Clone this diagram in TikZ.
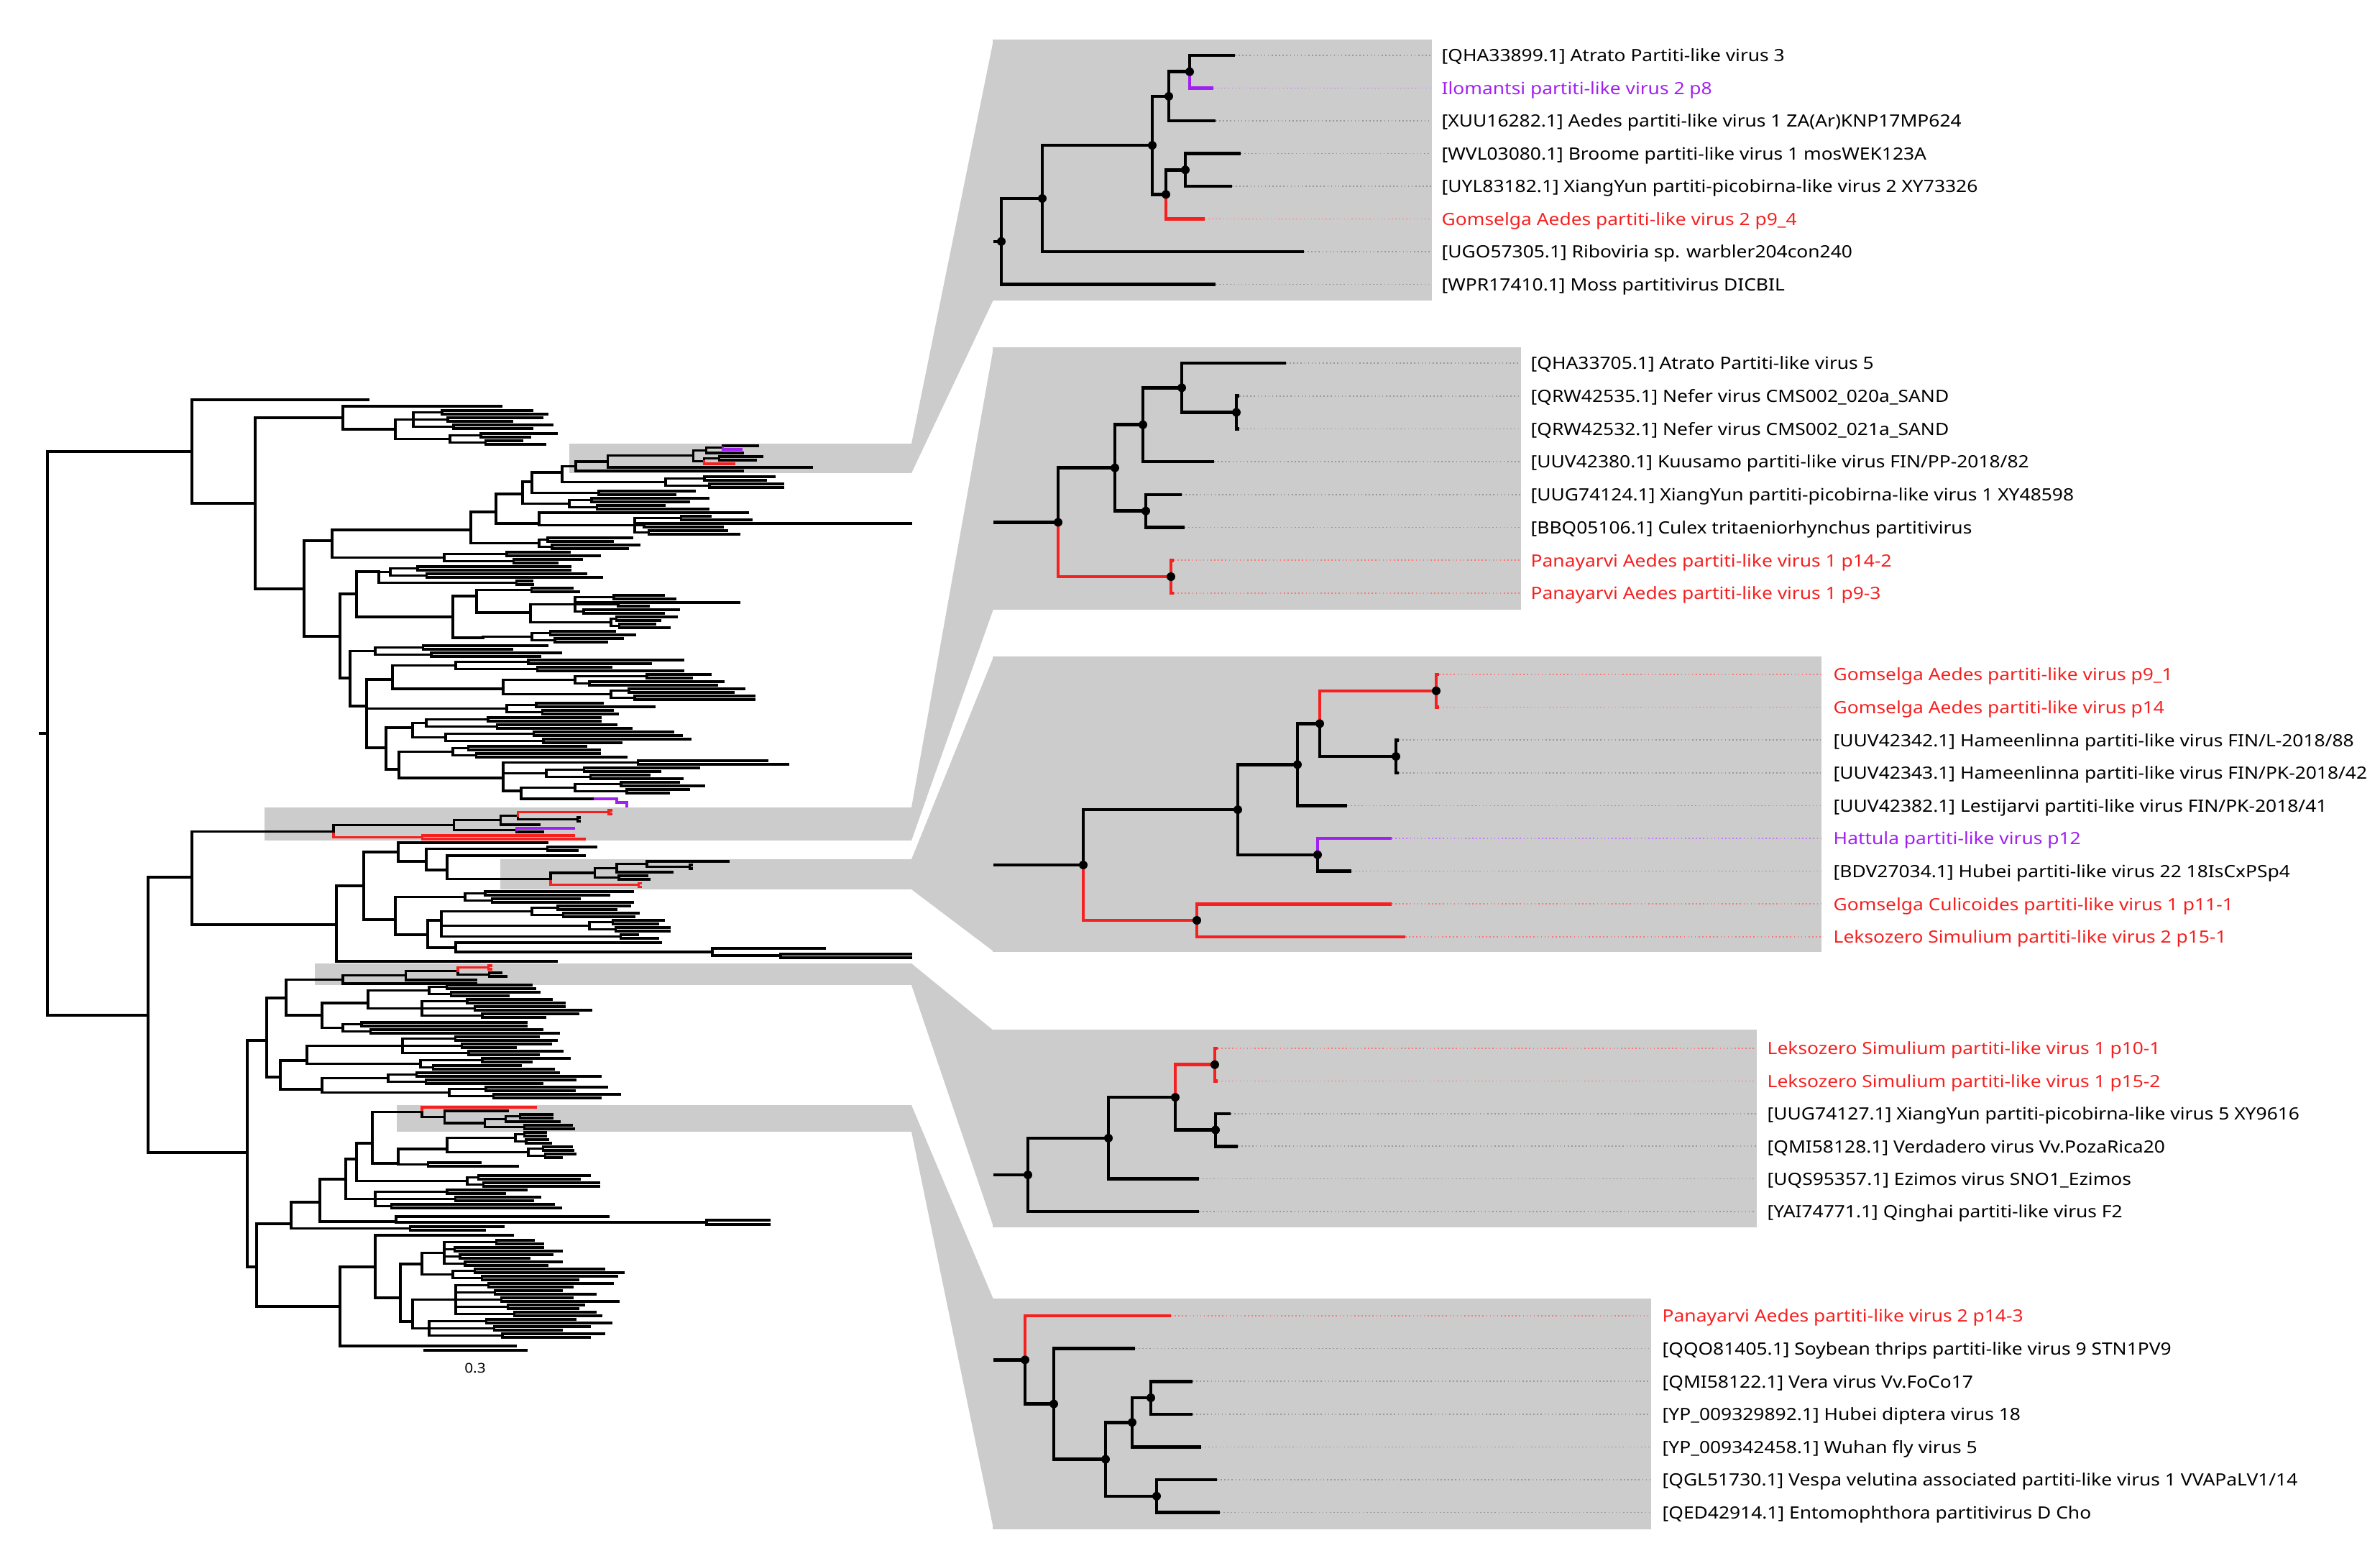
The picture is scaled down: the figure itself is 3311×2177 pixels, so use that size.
\documentclass[tikz,border=0pt]{standalone}
\usepackage{fontspec}
\newfontfamily\labfont{Noto Sans}[FakeStretch=1.12]
\definecolor{vred}{RGB}{245,32,32}
\definecolor{vpurple}{RGB}{160,32,240}
\definecolor{hlgray}{RGB}{204,204,204}

% branch from a parent to a child, square corner
\newcommand\br[2]{\draw[tb] (#1) |- (#2);}
% a bundle of leaf pairs hanging from one node
\newcommand\fan[6]{%
  \draw[tb] (#1) |- ({#2},{#3+5*#4-2.5});
  \draw[tb] ({#2},{#3+2.5}) -- ({#2},{#3+10*#4-7.5});
  \foreach \j in {1,...,#4}{%
    \pgfmathsetmacro\fy{#3+10*(\j-1)}%
    \pgfmathsetmacro\fsx{#2+(#5-#2)*(0.08+0.04*mod(\j*37+#6*11,9))}%
    \pgfmathsetmacro\fea{#5-(#5-#2)*0.035*mod(\j*53+#6*7,11)}%
    \pgfmathsetmacro\feb{#5-(#5-#2)*0.035*mod(\j*29+#6*17,11)}%
    \draw[tb] (#2,\fy+2.5) -- (\fsx,\fy+2.5)
      (\fsx,\fy) -- (\fsx,\fy+5)
      (\fsx,\fy) -- (\fea,\fy)
      (\fsx,\fy+5) -- (\feb,\fy+5);
  }%
}

% the five zoomed clades (x from the clade root, y from the first leaf)
\newcommand\cladeA{%
  \coordinate (r) at (0,258.8);  \coordinate (a) at (57,199);
  \coordinate (b) at (210,125.1); \coordinate (c) at (233,56.9);
  \coordinate (e) at (262,22.75); \coordinate (d) at (229,193.4);
  \coordinate (f) at (256,159.25);
  \coordinate (l1) at (325,0);    \coordinate (l2) at (295,45.5);
  \coordinate (l3) at (298,91);   \coordinate (l4) at (333,136.5);
  \coordinate (l5) at (321,182);  \coordinate (l6) at (283,227.5);
  \coordinate (l7) at (421,273);  \coordinate (l8) at (298,318.5);
  \draw[tb] (r) |- (a);  \draw[tb] (r) |- (l8);
  \draw[tb] (a) |- (b);  \draw[tb] (a) |- (l7);
  \draw[tb] (b) |- (c);  \draw[tb] (b) |- (d);
  \draw[tb] (c) |- (e);  \draw[tb] (c) |- (l3);
  \draw[tb] (e) |- (l1); \draw[tb] (d) |- (f);
  \draw[tb] (f) |- (l4); \draw[tb] (f) |- (l5);
  \draw[tb,vpurple] (e) |- (l2);
  \draw[tb,vred] (d) |- (l6);
}
\newcommand\cladeB{%
  \coordinate (r) at (0,221.4);  \coordinate (b) at (79,145.7);
  \coordinate (c) at (118,85.7); \coordinate (e) at (172,34.3);
  \coordinate (f) at (248,68.5); \coordinate (d) at (122,205.7);
  \coordinate (g) at (157,297);
  \coordinate (l1) at (317,0);     \coordinate (l2) at (252,45.7);
  \coordinate (l3) at (252,91.4);  \coordinate (l4) at (217,137.1);
  \coordinate (l5) at (172,182.8); \coordinate (l6) at (176,228.5);
  \coordinate (l7) at (161,274.2); \coordinate (l8) at (161,319.9);
  \draw[tb] (r) |- (b);  \draw[tb] (b) |- (c);
  \draw[tb] (b) |- (d);  \draw[tb] (c) |- (e);
  \draw[tb] (c) |- (l4); \draw[tb] (e) |- (l1);
  \draw[tb] (e) |- (f);  \draw[tb] (f) |- (l2);
  \draw[tb] (f) |- (l3); \draw[tb] (d) |- (l5);
  \draw[tb] (d) |- (l6);
  \draw[tb,vred] (r) |- (g);
  \draw[tb,vred] (g) |- (l7); \draw[tb,vred] (g) |- (l8);
}
\newcommand\cladeC{%
  \coordinate (r) at (0,265);      \coordinate (b) at (215,188.1);
  \coordinate (c) at (298,125.4);  \coordinate (d) at (329,68.4);
  \coordinate (g) at (491,22.8);   \coordinate (m) at (435,114);
  \coordinate (h) at (326,250.8);  \coordinate (q) at (158,342);
  \coordinate (l1) at (495,0);     \coordinate (l2) at (495,45.6);
  \coordinate (l3) at (439,91.2);  \coordinate (l4) at (439,136.8);
  \coordinate (l5) at (367,182.4); \coordinate (l6) at (429,228);
  \coordinate (l7) at (373,273.6); \coordinate (l8) at (429,319.2);
  \coordinate (l9) at (448,364.8);
  \draw[tb] (r) |- (b);  \draw[tb] (b) |- (c);
  \draw[tb] (b) |- (h);  \draw[tb] (c) |- (d);
  \draw[tb] (c) |- (l5); \draw[tb] (d) |- (m);
  \draw[tb] (m) |- (l3); \draw[tb] (m) |- (l4);
  \draw[tb] (h) |- (l7);
  \draw[tb,vred] (d) |- (g);
  \draw[tb,vred] (g) |- (l1); \draw[tb,vred] (g) |- (l2);
  \draw[tb,vpurple] (h) |- (l6);
  \draw[tb,vred] (r) |- (q);
  \draw[tb,vred] (q) |- (l8); \draw[tb,vred] (q) |- (l9);
}
\newcommand\cladeD{%
  \coordinate (r) at (0,176);      \coordinate (b) at (112,124.9);
  \coordinate (c) at (205,68.1);   \coordinate (k) at (260,22.7);
  \coordinate (v) at (261,113.5);
  \coordinate (l1) at (264,0);     \coordinate (l2) at (264,45.4);
  \coordinate (l3) at (282,90.8);  \coordinate (l4) at (292,136.2);
  \coordinate (l5) at (238,181.6); \coordinate (l6) at (238,227);
  \draw[tb] (r) |- (b);  \draw[tb] (r) |- (l6);
  \draw[tb] (b) |- (c);  \draw[tb] (b) |- (l5);
  \draw[tb] (c) |- (v);  \draw[tb] (v) |- (l3);
  \draw[tb] (v) |- (l4);
  \draw[tb,vred] (c) |- (k);
  \draw[tb,vred] (k) |- (l1); \draw[tb,vred] (k) |- (l2);
}
\newcommand\cladeE{%
  \coordinate (r) at (0,61.3);     \coordinate (b) at (40,122.6);
  \coordinate (c) at (112,199.5);  \coordinate (d) at (149,148.2);
  \coordinate (f) at (175,114);    \coordinate (e) at (183,250.8);
  \coordinate (l1) at (203,0);     \coordinate (l2) at (153,45.6);
  \coordinate (l3) at (233,91.2);  \coordinate (l4) at (233,136.8);
  \coordinate (l5) at (245,182.4); \coordinate (l6) at (267,228);
  \coordinate (l7) at (271,273.6);
  \draw[tb] (r) |- (b);  \draw[tb] (b) |- (l2);
  \draw[tb] (b) |- (c);  \draw[tb] (c) |- (d);
  \draw[tb] (c) |- (e);  \draw[tb] (d) |- (f);
  \draw[tb] (d) |- (l5); \draw[tb] (f) |- (l3);
  \draw[tb] (f) |- (l4); \draw[tb] (e) |- (l6);
  \draw[tb] (e) |- (l7);
  \draw[tb,vred] (r) |- (l1);
}

\begin{document}
\begin{tikzpicture}[x=0.01cm,y=-0.01cm]
  \tikzstyle{tb} = [line width=0.95pt, line cap=rect]
  \tikzstyle{hl} = [fill=hlgray]
  \tikzstyle{panel} = [fill=hlgray, draw=black!20, line width=0.4pt]
  \tikzstyle{lead} = [densely dotted, line width=0.45pt, black!40]
  \tikzstyle{lab} = [anchor=west, inner sep=0pt, text height=0.72em, text depth=0.22em,
                     font=\labfont\fontsize{6.7}{8}\selectfont]
  \tikzstyle{ndot} = [circle, fill=black, inner sep=0pt, minimum size=3.4pt]
  \useasboundingbox (0,0) rectangle (3311,2177);

  % shaded zoom bands
  \fill[hl] (1268,617) -- (1382,56) -- (1382,417) -- (1268,658) -- cycle;
  \fill[hl] (1268,1123) -- (1382,484) -- (1382,847) -- (1268,1169) -- cycle;
  \fill[hl] (1268,1195) -- (1382,914) -- (1382,1323) -- (1268,1237) -- cycle;
  \fill[hl] (1268,1340) -- (1382,1433) -- (1382,1706) -- (1268,1370) -- cycle;
  \fill[hl] (1268,1537) -- (1382,1807) -- (1382,2126) -- (1268,1574) -- cycle;
  \fill[hl] (792,617) rectangle (1268,658);
  \fill[hl] (368,1123) rectangle (1268,1169);
  \fill[hl] (696,1195) rectangle (1268,1237);
  \fill[hl] (438,1340) rectangle (1268,1370);
  \fill[hl] (552,1537) rectangle (1268,1574);
  \draw[panel] (1382,56) rectangle (1991,417);
  \draw[panel] (1382,484) rectangle (2115,847);
  \draw[panel] (1382,914) rectangle (2533,1323);
  \draw[panel] (1382,1433) rectangle (2443,1706);
  \draw[panel] (1382,1807) rectangle (2296,2126);

  % ---- full tree ----
  \draw[tb] (56,1020) -- (66,1020);
  \br{66,1020}{267,628} \br{66,1020}{206,1412}
  % upper half
  \br{267,628}{512,556} \br{267,628}{355,700}
  \br{355,700}{477,581} \br{355,700}{423,819}
  \br{477,581}{697,565} \br{477,581}{550,597}
  \fan{550,597}{575}{571}{3}{775}{1}
  \fan{550,597}{626}{603}{2}{780}{2}
  \br{423,819}{462,752} \br{423,819}{473,885}
  \br{462,752}{655,737}
  \fan{462,752}{618}{768}{2}{860}{3}
  \br{655,737}{690,712}
  \fan{655,737}{750}{748}{2}{900}{4}
  \br{690,712}{727,687} \br{690,712}{750,728}
  \br{727,687}{740,670}
  \fan{727,687}{792}{693}{2}{985}{5}
  \br{740,670}{782,657}
  \fan{740,670}{771}{683}{1}{1030}{6}
  \fan{782,657}{926}{663}{2}{1095}{7}
  \br{750,728}{1040,713}
  \fan{750,728}{883}{718}{3}{1045}{8}
  \draw[tb] (883,728) -- (1267,728);
  \br{473,885}{496,826} \br{473,885}{487,943}
  \br{496,826}{527,795} \br{496,826}{630,858}
  \fan{527,795}{543}{788}{2}{860}{9}
  \fan{527,795}{713}{808}{1}{742}{10}
  \br{630,858}{663,829} \br{630,858}{672,887}
  \fan{663,829}{700}{818}{1}{840}{11}
  \br{663,829}{738,852}
  \fan{738,852}{800}{828}{3}{950}{12}
  \fan{738,852}{850}{858}{2}{945}{13}
  \draw[tb] (800,838) -- (1028,838);
  \fan{672,887}{740}{878}{2}{900}{14}
  \fan{487,943}{522}{898}{2}{800}{15}
  \br{487,943}{510,982}
  \br{510,982}{546,945} \br{510,982}{537,1040}
  \fan{546,945}{634}{918}{2}{950}{16}
  \br{546,945}{700,958}
  \fan{700,958}{800}{938}{2}{1050}{17}
  \fan{700,958}{850}{958}{2}{1057}{18}
  \fan{510,982}{705}{978}{2}{910}{19}
  \br{537,1040}{574,1012} \br{537,1040}{555,1070}
  \fan{574,1012}{593}{998}{2}{900}{20}
  \fan{574,1012}{620}{1018}{2}{960}{21}
  \fan{555,1070}{630}{1038}{2}{900}{22}
  \br{555,1070}{700,1082}
  \fan{700,1082}{844}{1058}{1}{1115}{23}
  \fan{700,1082}{760}{1068}{2}{980}{24}
  \br{700,1082}{725,1100}
  \fan{725,1100}{800}{1088}{2}{1000}{25}
  \draw[tb] (725,1100) |- (828,1111);
  \draw[tb,vpurple] (828,1111) -- (858,1111) |- (872,1116) -- (872,1121);
  % lower half
  \br{206,1412}{267,1220} \br{206,1412}{344,1603}
  \br{267,1220}{468,1286}
  \br{468,1286}{506,1232} \br{468,1286}{774,1337}
  \br{506,1232}{554,1185} \br{506,1232}{550,1279}
  \br{554,1185}{761,1172} \br{554,1185}{593,1198}
  \fan{593,1198}{703}{1178}{1}{850}{26}
  \br{593,1198}{622,1210}
  \br{622,1210}{813,1190}
  \fan{550,1279}{647}{1240}{2}{880}{27}
  \br{550,1279}{595,1300}
  \br{595,1300}{614,1280} \br{595,1300}{634,1318}
  \fan{614,1280}{740}{1260}{2}{920}{28}
  \fan{614,1280}{820}{1280}{2}{935}{29}
  \fan{614,1280}{835}{1300}{1}{915}{30}
  \br{634,1318}{919,1311} \br{634,1318}{991,1324}
  \br{991,1324}{1147,1319} \br{991,1324}{1086,1329}
  \br{1086,1329}{1267,1327} \br{1086,1329}{1267,1332}
  \br{344,1603}{371,1447} \br{344,1603}{357,1762}
  \br{371,1447}{398,1388} \br{371,1447}{390,1498}
  \br{398,1388}{448,1412}
  \br{448,1412}{512,1395}
  \fan{448,1412}{477}{1422}{2}{800}{31}
  \fan{512,1395}{597}{1370}{2}{750}{32}
  \fan{512,1395}{587}{1390}{3}{850}{33}
  \br{390,1498}{427,1475} \br{390,1498}{448,1515}
  \fan{427,1475}{560}{1442}{3}{790}{34}
  \fan{427,1475}{585}{1472}{2}{800}{35}
  \fan{448,1515}{540}{1492}{2}{870}{36}
  \fan{448,1515}{625}{1512}{2}{880}{37}
  \br{357,1762}{405,1702} \br{357,1762}{473,1817}
  \br{405,1702}{445,1672}
  \fan{405,1702}{520}{1706}{1}{700}{38}
  \br{445,1672}{481,1640} \br{445,1672}{551,1699}
  \br{551,1699}{846,1692} \br{551,1699}{983,1700}
  \br{983,1700}{1070,1697} \br{983,1700}{1070,1703}
  \br{481,1640}{496,1612}
  \fan{481,1640}{522}{1655}{3}{800}{39}
  \br{496,1612}{518,1590}
  \fan{496,1612}{650}{1635}{2}{840}{40}
  \br{518,1590}{554,1618}
  \br{554,1618}{622,1598}
  \fan{554,1618}{572}{1617}{1}{720}{41}
  \fan{622,1598}{717}{1575}{2}{770}{42}
  \fan{622,1598}{735}{1595}{2}{800}{43}
  \br{473,1817}{522,1762} \br{473,1817}{717,1872}
  \br{522,1762}{713,1718} \br{522,1762}{557,1805}
  \br{557,1805}{587,1758} \br{557,1805}{574,1838}
  \fan{587,1758}{618}{1725}{4}{800}{44}
  \fan{587,1758}{630}{1765}{2}{885}{45}
  \fan{574,1838}{634}{1785}{5}{860}{46}
  \fan{574,1838}{597}{1835}{3}{880}{47}
  % highlighted clades inside the tree
  \begin{scope}[shift={(801,620)}, xscale=0.78, yscale=0.11, name prefix=t1-] \cladeA \end{scope}
  \begin{scope}[shift={(766,1198)}, xscale=0.78, yscale=0.11, name prefix=t2-] \cladeB \end{scope}
  \begin{scope}[shift={(464,1127)}, xscale=0.78, yscale=0.11, name prefix=t3-] \cladeC \end{scope}
  \begin{scope}[shift={(477,1343)}, xscale=0.78, yscale=0.11, name prefix=t4-] \cladeD \end{scope}
  \begin{scope}[shift={(587,1540)}, xscale=0.78, yscale=0.11, name prefix=t5-] \cladeE \end{scope}
  \br{782,657}{t1-r}
  \br{622,1210}{t2-r}
  \br{267,1220}{t3-r}
  \br{398,1388}{t4-r}
  \br{518,1590}{t5-r}
  % scale bar
  \draw[tb] (591,1878) -- (732,1878);
  \node[font=\labfont\fontsize{5.3}{6}\selectfont, inner sep=0pt] (scale) at (661,1903) {0.3};

  % ---- zoom panels ----
  \coordinate (pl) at (1382,0);
  % panel 1
  \begin{scope}[shift={(1393,77)}, name prefix=p1-, tb/.style={line width=1.3pt}] \cladeA \end{scope}
  \coordinate (p1e) at (1991,0); \coordinate (p1x) at (2005,0);
  \draw[line width=1.3pt] (p1-r -| pl) -- (p1-r);
  \foreach \i in {1,3,4,5,7,8} \draw[lead] (p1-l\i) -- (p1-l\i -| p1e);
  \draw[lead,vpurple!60] (p1-l2) -- (p1-l2 -| p1e);
  \draw[lead,vred!60] (p1-l6) -- (p1-l6 -| p1e);
  \foreach \n in {r,a,b,c,d,e,f} \node[ndot] (p1-dot-\n) at (p1-\n) {};
  \node[lab] (p1-t1) at (p1-l1 -| p1x) {[QHA33899.1] Atrato Partiti-like virus 3};
  \node[lab,vpurple] (p1-t2) at (p1-l2 -| p1x) {Ilomantsi partiti-like virus 2 p8};
  \node[lab] (p1-t3) at (p1-l3 -| p1x) {[XUU16282.1] Aedes partiti-like virus 1 ZA(Ar)KNP17MP624};
  \node[lab] (p1-t4) at (p1-l4 -| p1x) {[WVL03080.1] Broome partiti-like virus 1 mosWEK123A};
  \node[lab] (p1-t5) at (p1-l5 -| p1x) {[UYL83182.1] XiangYun partiti-picobirna-like virus 2 XY73326};
  \node[lab,vred] (p1-t6) at (p1-l6 -| p1x) {Gomselga Aedes partiti-like virus 2 p9\_4};
  \node[lab] (p1-t7) at (p1-l7 -| p1x) {[UGO57305.1] Riboviria sp. warbler204con240};
  \node[lab] (p1-t8) at (p1-l8 -| p1x) {[WPR17410.1] Moss partitivirus DICBIL};
  % panel 2
  \begin{scope}[shift={(1472,505)}, name prefix=p2-, tb/.style={line width=1.3pt}] \cladeB \end{scope}
  \coordinate (p2e) at (2115,0); \coordinate (p2x) at (2129,0);
  \draw[line width=1.3pt] (p2-r -| pl) -- (p2-r);
  \foreach \i in {1,...,6} \draw[lead] (p2-l\i) -- (p2-l\i -| p2e);
  \foreach \i in {7,8} \draw[lead,vred!60] (p2-l\i) -- (p2-l\i -| p2e);
  \foreach \n in {r,b,c,d,e,f,g} \node[ndot] (p2-dot-\n) at (p2-\n) {};
  \node[lab] (p2-t1) at (p2-l1 -| p2x) {[QHA33705.1] Atrato Partiti-like virus 5};
  \node[lab] (p2-t2) at (p2-l2 -| p2x) {[QRW42535.1] Nefer virus CMS002\_020a\_SAND};
  \node[lab] (p2-t3) at (p2-l3 -| p2x) {[QRW42532.1] Nefer virus CMS002\_021a\_SAND};
  \node[lab] (p2-t4) at (p2-l4 -| p2x) {[UUV42380.1] Kuusamo partiti-like virus FIN/PP-2018/82};
  \node[lab] (p2-t5) at (p2-l5 -| p2x) {[UUG74124.1] XiangYun partiti-picobirna-like virus 1 XY48598};
  \node[lab] (p2-t6) at (p2-l6 -| p2x) {[BBQ05106.1] Culex tritaeniorhynchus partitivirus};
  \node[lab,vred] (p2-t7) at (p2-l7 -| p2x) {Panayarvi Aedes partiti-like virus 1 p14-2};
  \node[lab,vred] (p2-t8) at (p2-l8 -| p2x) {Panayarvi Aedes partiti-like virus 1 p9-3};
  % panel 3
  \begin{scope}[shift={(1507,938)}, name prefix=p3-, tb/.style={line width=1.3pt}] \cladeC \end{scope}
  \coordinate (p3e) at (2533,0); \coordinate (p3x) at (2550,0);
  \draw[line width=1.3pt] (p3-r -| pl) -- (p3-r);
  \foreach \i in {3,4,5,7} \draw[lead] (p3-l\i) -- (p3-l\i -| p3e);
  \foreach \i in {1,2,8,9} \draw[lead,vred!60] (p3-l\i) -- (p3-l\i -| p3e);
  \draw[lead,vpurple!60] (p3-l6) -- (p3-l6 -| p3e);
  \foreach \n in {r,b,c,d,g,m,h,q} \node[ndot] (p3-dot-\n) at (p3-\n) {};
  \node[lab,vred] (p3-t1) at (p3-l1 -| p3x) {Gomselga Aedes partiti-like virus p9\_1};
  \node[lab,vred] (p3-t2) at (p3-l2 -| p3x) {Gomselga Aedes partiti-like virus p14};
  \node[lab] (p3-t3) at (p3-l3 -| p3x) {[UUV42342.1] Hameenlinna partiti-like virus FIN/L-2018/88};
  \node[lab] (p3-t4) at (p3-l4 -| p3x) {[UUV42343.1] Hameenlinna partiti-like virus FIN/PK-2018/42};
  \node[lab] (p3-t5) at (p3-l5 -| p3x) {[UUV42382.1] Lestijarvi partiti-like virus FIN/PK-2018/41};
  \node[lab,vpurple] (p3-t6) at (p3-l6 -| p3x) {Hattula partiti-like virus p12};
  \node[lab] (p3-t7) at (p3-l7 -| p3x) {[BDV27034.1] Hubei partiti-like virus 22 18IsCxPSp4};
  \node[lab,vred] (p3-t8) at (p3-l8 -| p3x) {Gomselga Culicoides partiti-like virus 1 p11-1};
  \node[lab,vred] (p3-t9) at (p3-l9 -| p3x) {Leksozero Simulium partiti-like virus 2 p15-1};
  % panel 4
  \begin{scope}[shift={(1430,1458)}, name prefix=p4-, tb/.style={line width=1.3pt}] \cladeD \end{scope}
  \coordinate (p4e) at (2443,0); \coordinate (p4x) at (2458,0);
  \draw[line width=1.3pt] (p4-r -| pl) -- (p4-r);
  \foreach \i in {3,...,6} \draw[lead] (p4-l\i) -- (p4-l\i -| p4e);
  \foreach \i in {1,2} \draw[lead,vred!60] (p4-l\i) -- (p4-l\i -| p4e);
  \foreach \n in {r,b,c,k,v} \node[ndot] (p4-dot-\n) at (p4-\n) {};
  \node[lab,vred] (p4-t1) at (p4-l1 -| p4x) {Leksozero Simulium partiti-like virus 1 p10-1};
  \node[lab,vred] (p4-t2) at (p4-l2 -| p4x) {Leksozero Simulium partiti-like virus 1 p15-2};
  \node[lab] (p4-t3) at (p4-l3 -| p4x) {[UUG74127.1] XiangYun partiti-picobirna-like virus 5 XY9616};
  \node[lab] (p4-t4) at (p4-l4 -| p4x) {[QMI58128.1] Verdadero virus Vv.PozaRica20};
  \node[lab] (p4-t5) at (p4-l5 -| p4x) {[UQS95357.1] Ezimos virus SNO1\_Ezimos};
  \node[lab] (p4-t6) at (p4-l6 -| p4x) {[YAI74771.1] Qinghai partiti-like virus F2};
  % panel 5
  \begin{scope}[shift={(1426,1830)}, name prefix=p5-, tb/.style={line width=1.3pt}] \cladeE \end{scope}
  \coordinate (p5e) at (2296,0); \coordinate (p5x) at (2312,0);
  \draw[line width=1.3pt] (p5-r -| pl) -- (p5-r);
  \foreach \i in {2,...,7} \draw[lead] (p5-l\i) -- (p5-l\i -| p5e);
  \draw[lead,vred!60] (p5-l1) -- (p5-l1 -| p5e);
  \foreach \n in {r,b,c,d,f,e} \node[ndot] (p5-dot-\n) at (p5-\n) {};
  \node[lab,vred] (p5-t1) at (p5-l1 -| p5x) {Panayarvi Aedes partiti-like virus 2 p14-3};
  \node[lab] (p5-t2) at (p5-l2 -| p5x) {[QQO81405.1] Soybean thrips partiti-like virus 9 STN1PV9};
  \node[lab] (p5-t3) at (p5-l3 -| p5x) {[QMI58122.1] Vera virus Vv.FoCo17};
  \node[lab] (p5-t4) at (p5-l4 -| p5x) {[YP\_009329892.1] Hubei diptera virus 18};
  \node[lab] (p5-t5) at (p5-l5 -| p5x) {[YP\_009342458.1] Wuhan fly virus 5};
  \node[lab] (p5-t6) at (p5-l6 -| p5x) {[QGL51730.1] Vespa velutina associated partiti-like virus 1 VVAPaLV1/14};
  \node[lab] (p5-t7) at (p5-l7 -| p5x) {[QED42914.1] Entomophthora partitivirus D Cho};
\end{tikzpicture}
\end{document}
